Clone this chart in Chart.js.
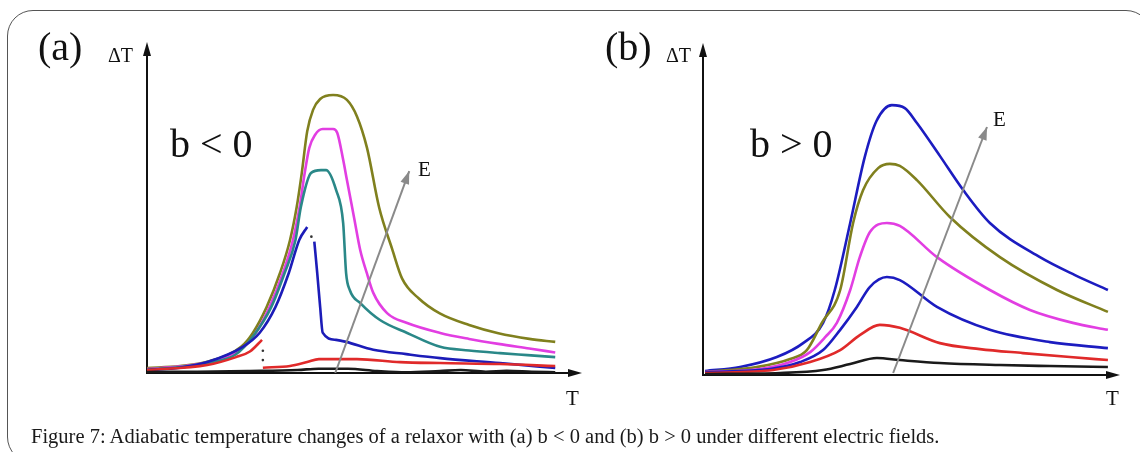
<!DOCTYPE html>
<html>
<head>
<meta charset="utf-8">
<script src="https://cdn.jsdelivr.net/npm/chart.js@4.4.0/dist/chart.umd.min.js"></script>
<style>
  body { margin:0; background:#fff; width:1140px; height:452px; overflow:hidden; position:relative; }
  canvas { position:absolute; left:0; top:0; }
  .frame { position:absolute; left:7px; top:10px; width:1145px; height:453px; border:1.5px solid #555; border-radius:26px; box-sizing:border-box; }
  .lbl { position:absolute; font-family:"Liberation Serif", "Times New Roman", serif; color:#111; line-height:1; white-space:nowrap; }
</style>
</head>
<body>
<div class="frame"></div>
<canvas id="chartA" width="1140" height="452"></canvas>
<canvas id="chartB" width="1140" height="452"></canvas>

<div class="lbl" style="left:38px;top:27px;font-size:40px">(a)</div>
<div class="lbl" style="left:108px;top:45px;font-size:20px">ΔT</div>
<div class="lbl" style="left:170px;top:124px;font-size:40px">b &lt; 0</div>
<div class="lbl" style="left:418px;top:159px;font-size:21px">E</div>
<div class="lbl" style="left:566px;top:388px;font-size:21px">T</div>

<div class="lbl" style="left:605px;top:27px;font-size:40px">(b)</div>
<div class="lbl" style="left:666px;top:45px;font-size:20px">ΔT</div>
<div class="lbl" style="left:750px;top:124px;font-size:40px">b &gt; 0</div>
<div class="lbl" style="left:993px;top:109px;font-size:21px">E</div>
<div class="lbl" style="left:1106px;top:388px;font-size:21px">T</div>

<div class="lbl" style="left:31px;top:426px;font-size:20.5px;color:#1a1a1a">Figure 7: Adiabatic temperature changes of a relaxor with (a) b &lt; 0 and (b) b &gt; 0 under different electric fields.</div>

<script>
// panel (a), b < 0  (T and ΔT in arbitrary units, 0..100)
const aOliveT  = [0, 7.9, 15.1, 22.5, 25.3, 28.6, 31.8, 34.2, 35.8, 37.0, 38.3, 39.7, 41.4, 44.5, 47.8, 50.2, 52.6, 55.5, 58.6, 61, 65, 70, 77, 84, 91.4, 97.6]
const aOliveDT = [1.5, 2.1, 3.6, 7.9, 12.1, 19.9, 30.2, 40.2, 50.2, 60.4, 73, 79.5, 82.8, 84, 82.5, 77.5, 68, 50, 37.5, 28.5, 22.5, 18, 14.5, 12, 10.3, 9.4]

const aMagT  = [0, 7.9, 15.1, 23.2, 26, 29.3, 32.5, 34.9, 36.5, 37.7, 38.8, 40.2, 42, 44.5, 45.5, 46.9, 47.8, 49.5, 51, 52.6, 54.1, 57.4, 62.2, 70.1, 77, 84, 91.4, 97.6]
const aMagDT = [1.2, 2, 3.4, 7.9, 12.1, 19.9, 30.2, 40.2, 50.2, 60.4, 68, 72, 73.7, 73.7, 72.5, 64.4, 58.3, 47, 37, 30, 24.2, 18.1, 15.1, 12.1, 10.3, 8.8, 7.4, 6.2]

const aTealT  = [0, 7.9, 15.1, 21.1, 25.6, 29.7, 32.9, 35.5, 36.8, 39.2, 41.6, 42.8, 45.2, 46.9, 47.6, 48.5, 51, 55.7, 62.2, 70.1, 77, 84.4, 91, 97.6]
const aTealDT = [1.0, 1.8, 3.2, 5.5, 11.5, 19.9, 30.2, 40.2, 50.2, 60.4, 61.3, 61.3, 55.3, 45.3, 30.2, 25, 21.1, 16, 12.1, 7.9, 6.8, 6, 5.4, 4.8]

const aBlue1T  = [0, 7.9, 14.4, 22.9, 26.9, 30.7, 33.9, 36.4, 38.3]
const aBlue1DT = [0.9, 1.6, 3.3, 7.9, 12.1, 19.9, 30.2, 40.2, 44.1]
const aBlue2T  = [40.0, 40.7, 41.4, 42.0, 45.2, 47.6, 54.1, 62, 70.1, 84.4, 97.6]
const aBlue2DT = [39.7, 30.2, 19.9, 12.2, 10, 9.4, 7, 5.7, 4.5, 3, 1.5]

const aRed1T  = [0, 14.4, 21.3, 24.6, 27.5]
const aRed1DT = [0.9, 2.4, 4.8, 6.5, 10]
const aRed2T  = [27.7, 34.2, 38.3, 41.1, 50.2, 60.5, 70.1, 84.4, 97.6]
const aRed2DT = [1.6, 2.1, 3.3, 4.2, 4.2, 3.3, 3, 2.7, 2.1]

const aBlackT  = [0, 12, 24, 36, 41, 48, 55, 62, 70, 75, 81, 86, 92, 97.6]
const aBlackDT = [0.3, 0.4, 0.6, 0.9, 1.3, 1.3, 0.6, 0.2, 0.6, 0.9, 0.4, 0.7, 0.4, 0.2]

const aDotsT  = [27.7, 27.7, 39.3]
const aDotsDT = [6.7, 3.9, 41.2]

const aArrowT  = [45, 62.7]
const aArrowDT = [0, 61]

// panel (b), b > 0
const bBlueTopT  = [0.5, 8.9, 17.7, 24, 28.8, 31.6, 35.3, 38.8, 41.6, 45.3, 48.4, 51.3, 56.8, 62.4, 68.8, 80.8, 89.2, 97.1]
const bBlueTopDT = [1.2, 2.4, 5.4, 9.6, 15.7, 25.6, 45.8, 65.7, 76.5, 81.3, 80.4, 75.9, 66, 55.7, 45.8, 35.5, 30.1, 25.6]

const bOliveT  = [0.5, 12.9, 20.9, 24.9, 28.5, 32.9, 36, 38.4, 42, 44.8, 47.2, 51.3, 59.2, 71.2, 84.9, 97.1]
const bOliveDT = [0.9, 2.4, 4.8, 7.5, 15.7, 25.6, 45.8, 55.7, 62.3, 63.6, 63, 58.7, 47.6, 35.5, 25.6, 19]

const bMagT  = [0.5, 13.7, 20.9, 25.7, 29.3, 32.1, 35.3, 37.6, 40, 44.1, 47.2, 56.1, 68.8, 78.4, 88.7, 97.1]
const bMagDT = [0.9, 1.8, 3.9, 6.9, 11.4, 15.7, 25.6, 35.5, 43, 45.8, 44.9, 35.5, 25.6, 19.6, 15.7, 13.6]

const bBlueLowT  = [0.5, 16.1, 23.3, 28.8, 32.9, 36.9, 40, 44.1, 47.2, 56.1, 68.8, 83.2, 97.1]
const bBlueLowDT = [0.9, 1.8, 3.9, 7.5, 13.6, 20.5, 26.5, 29.5, 28.6, 20.5, 13.6, 9.9, 8.1]

const bRedT  = [0.5, 16.8, 25.7, 32.9, 37.6, 42.4, 47.2, 56.8, 66.4, 76.7, 88, 97.1]
const bRedDT = [0.6, 1.5, 3.9, 7.5, 12, 15.1, 14.2, 9.6, 7.8, 6.6, 5.4, 4.5]

const bBlackT  = [0.5, 18.5, 28.8, 35.3, 41.7, 47.2, 56.8, 71.2, 83.2, 97.1]
const bBlackDT = [0.3, 0.6, 1.5, 3.3, 5.1, 4.5, 3.6, 3, 2.7, 2.4]

const bArrowT  = [45.6, 68.1]
const bArrowDT = [0.6, 74.7]

function pts(xs, ys) {
  return xs.map((x, i) => ({x: x, y: ys[i]}))
}

function line(xs, ys, color) {
  return {data: pts(xs, ys), borderColor: color, borderWidth: 2.6, pointRadius: 0,
          cubicInterpolationMode: 'monotone', fill: false}
}

function arrow(xs, ys) {
  return {data: pts(xs, ys), borderColor: '#8a8a8a', borderWidth: 2, pointRadius: 0,
          tension: 0, fill: false, arrowHead: true}
}

// axes with arrow heads + arrow head on the E line
const axesPlugin = {
  id: 'axes',
  beforeDatasetsDraw(chart) {
    const c = chart.ctx, a = chart.chartArea
    c.save()
    c.strokeStyle = '#111'
    c.fillStyle = '#111'
    c.lineWidth = 2
    c.beginPath()
    c.moveTo(a.left, a.bottom + 1)
    c.lineTo(a.left, a.top + 10)
    c.moveTo(a.left - 1, a.bottom)
    c.lineTo(a.right - 10, a.bottom)
    c.stroke()
    c.beginPath()
    c.moveTo(a.left, a.top)
    c.lineTo(a.left - 4, a.top + 14)
    c.lineTo(a.left + 4, a.top + 14)
    c.closePath()
    c.fill()
    c.beginPath()
    c.moveTo(a.right, a.bottom)
    c.lineTo(a.right - 14, a.bottom - 4)
    c.lineTo(a.right - 14, a.bottom + 4)
    c.closePath()
    c.fill()
    c.restore()
  },
  afterDatasetsDraw(chart) {
    const c = chart.ctx
    chart.data.datasets.forEach((ds, i) => {
      if (!ds.arrowHead) return
      const p = chart.getDatasetMeta(i).data
      const p1 = p[p.length - 2], p2 = p[p.length - 1]
      const ang = Math.atan2(p2.y - p1.y, p2.x - p1.x)
      c.save()
      c.fillStyle = ds.borderColor
      c.translate(p2.x, p2.y)
      c.rotate(ang)
      c.beginPath()
      c.moveTo(0, 0)
      c.lineTo(-13, -4.5)
      c.lineTo(-13, 4.5)
      c.closePath()
      c.fill()
      c.restore()
    })
  }
}

function makeChart(id, datasets, pad, xmax) {
  return new Chart(document.getElementById(id), {
    type: 'line',
    data: {datasets: datasets},
    options: {
      responsive: false,
      animation: false,
      layout: {padding: pad},
      plugins: {legend: {display: false}, tooltip: {enabled: false}},
      scales: {
        x: {type: 'linear', display: false, min: 0, max: xmax},
        y: {type: 'linear', display: false, min: 0, max: 100}
      }
    },
    plugins: [axesPlugin]
  })
}

const dotsA = {data: pts(aDotsT, aDotsDT), showLine: false, pointRadius: 1.3,
               pointBackgroundColor: '#333', pointBorderWidth: 0}

makeChart('chartA', [
  arrow(aArrowT, aArrowDT),
  dotsA,
  line(aBlackT, aBlackDT, '#1a1a1a'),
  line(aRed2T, aRed2DT, '#e02a2a'),
  line(aRed1T, aRed1DT, '#e02a2a'),
  line(aBlue2T, aBlue2DT, '#1c1cb8'),
  line(aBlue1T, aBlue1DT, '#1c1cb8'),
  line(aTealT, aTealDT, '#2a8888'),
  line(aMagT, aMagDT, '#e23ee2'),
  line(aOliveT, aOliveDT, '#80801e')
], {left: 147, right: 558, top: 42, bottom: 79}, 104)

makeChart('chartB', [
  arrow(bArrowT, bArrowDT),
  line(bBlackT, bBlackDT, '#1a1a1a'),
  line(bRedT, bRedDT, '#e02a2a'),
  line(bBlueLowT, bBlueLowDT, '#1c1cc0'),
  line(bMagT, bMagDT, '#e23ee2'),
  line(bOliveT, bOliveDT, '#80801e'),
  line(bBlueTopT, bBlueTopDT, '#1c1cc0')
], {left: 703, right: 20, top: 43, bottom: 77}, 100)
</script>
</body>
</html>
